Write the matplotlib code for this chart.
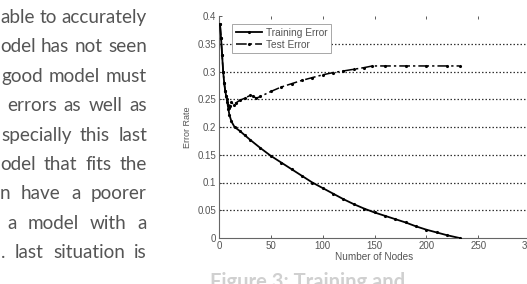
import numpy as np
import matplotlib
matplotlib.use("Agg")
import matplotlib.pyplot as plt

# ─────────────────────────────────────────────
# Data
# ─────────────────────────────────────────────
train_nodes = [1, 2, 3, 4, 5, 6, 7, 8, 9, 10, 12, 15, 20, 25, 30, 40, 50, 60, 70,
               80, 90, 100, 110, 120, 130, 140, 150, 160, 170, 180, 190, 200,
               210, 220, 232]
train_err = [0.385, 0.36, 0.33, 0.30, 0.28, 0.265, 0.255, 0.245, 0.233, 0.222,
             0.21, 0.2, 0.193, 0.185, 0.177, 0.162, 0.148, 0.136, 0.124, 0.112,
             0.1, 0.09, 0.08, 0.07, 0.061, 0.053, 0.046, 0.040, 0.034, 0.028,
             0.021, 0.015, 0.010, 0.005, 0.0]

test_nodes = [1, 2, 3, 4, 5, 6, 7, 8, 9, 10, 11, 12, 14, 16, 20, 25, 30, 33, 36,
              40, 50, 60, 70, 80, 90, 100, 110, 120, 130, 140, 148, 160, 180,
              200, 220, 232]
test_err = [0.385, 0.36, 0.33, 0.30, 0.28, 0.265, 0.255, 0.25, 0.24, 0.235,
            0.238, 0.245, 0.24, 0.243, 0.248, 0.252, 0.257, 0.255, 0.252, 0.255,
            0.264, 0.272, 0.278, 0.284, 0.289, 0.294, 0.298, 0.301, 0.304,
            0.307, 0.31, 0.31, 0.31, 0.31, 0.31, 0.31]

x_ticks = [0, 50, 100, 150, 200, 250, 300]
y_ticks = [0, 0.05, 0.1, 0.15, 0.2, 0.25, 0.3, 0.35, 0.4]
y_tick_labels = ["0", "0.05", "0.1", "0.15", "0.2", "0.25", "0.3", "0.35", "0.4"]
grid_levels = [0.05, 0.1, 0.15, 0.2, 0.25, 0.3, 0.35]

body_lines = [
    "able to accurately",
    "odel has not seen",
    "good model must",
    "errors as well as",
    "specially this last",
    "odel that fits the",
    "n have a poorer",
    "a model with a",
    ". last situation is",
]
# left edge (px) of the first visible fragment of each justified line
body_left = [0, 0, 1, 7, 1, 0, 0, 7, 1]
caption = "Figure 3: Training and"

# ─────────────────────────────────────────────
# Figure
# ─────────────────────────────────────────────
W, H = 527, 284
fig = plt.figure(figsize=(W / 100, H / 100), dpi=100)
fig.patch.set_facecolor("white")

TXT = "#555555"
AX = "#444444"
RIGHT = 147  # right margin of the justified paragraph

# paragraph text on the left (justified, cut off by the page edge)
renderer = fig.canvas.get_renderer()
for i, line in enumerate(body_lines):
    y_base = 1 - (23 + i * 29.4) / H
    words = line.split()
    texts = [fig.text(0, y_base, w, ha="left", va="baseline", fontsize=13.6,
                      family="Lato", color=TXT) for w in words]
    widths = [t.get_window_extent(renderer).width for t in texts]
    gap = (RIGHT - body_left[i] - sum(widths)) / max(len(words) - 1, 1)
    x = body_left[i]
    for t, w in zip(texts, widths):
        t.set_x(x / W)
        x += w + gap

# caption at the bottom, mostly cut off
fig.text(210 / W, 1 - 272 / H, caption, ha="left", va="top",
         fontsize=14.5, family="Lato", fontweight="bold", color="#d0d0d0")

# chart
ax = fig.add_axes([219 / W, 1 - 238 / H, (530 - 219) / W, (238 - 16) / H])
ax.set_xlim(0, 300)
ax.set_ylim(0, 0.4)

for g in grid_levels:
    ax.axhline(g, color="#333333", linestyle=(0, (1.2, 1.6)), linewidth=0.9,
               zorder=1)

ax.plot(train_nodes, train_err, color="black", linewidth=1.3, marker=".",
        markersize=2.5, label="Training Error", zorder=3)
ax.plot(test_nodes, test_err, color="black", linewidth=1.1, marker=".",
        markersize=2.5, linestyle=(0, (7, 2, 1.5, 2)), label="Test Error",
        zorder=3)

ax.set_xticks(x_ticks)
ax.set_yticks(y_ticks)
ax.set_yticklabels(y_tick_labels)
ax.tick_params(direction="in", length=2.5, width=0.6, colors=AX,
               labelsize=7, labelcolor=TXT, top=True, right=False, pad=2)
for lab in ax.get_xticklabels() + ax.get_yticklabels():
    lab.set_family("Liberation Sans")

ax.spines["top"].set_visible(False)
ax.spines["right"].set_visible(False)
ax.spines["left"].set_color("#666666")
ax.spines["bottom"].set_color("#666666")
ax.spines["left"].set_linewidth(0.8)
ax.spines["bottom"].set_linewidth(0.8)

ax.set_xlabel("Number of Nodes", fontsize=7.2, family="Liberation Sans",
              color=TXT, labelpad=1)
ax.set_ylabel("Error Rate", fontsize=6.5, family="Liberation Sans",
              color=TXT, labelpad=4)

leg = ax.legend(loc="upper left", bbox_to_anchor=(0.042, 0.962),
                fontsize=7.3, frameon=True, fancybox=False, framealpha=1,
                edgecolor="#999999", handlelength=2.6, handletextpad=0.4,
                borderpad=0.35, labelspacing=0.15, borderaxespad=0)
leg.get_frame().set_linewidth(0.6)
for t in leg.get_texts():
    t.set_color(TXT)
    t.set_family("Liberation Sans")
leg.set_zorder(5)

fig.savefig("out.png", dpi=100, facecolor="white")
